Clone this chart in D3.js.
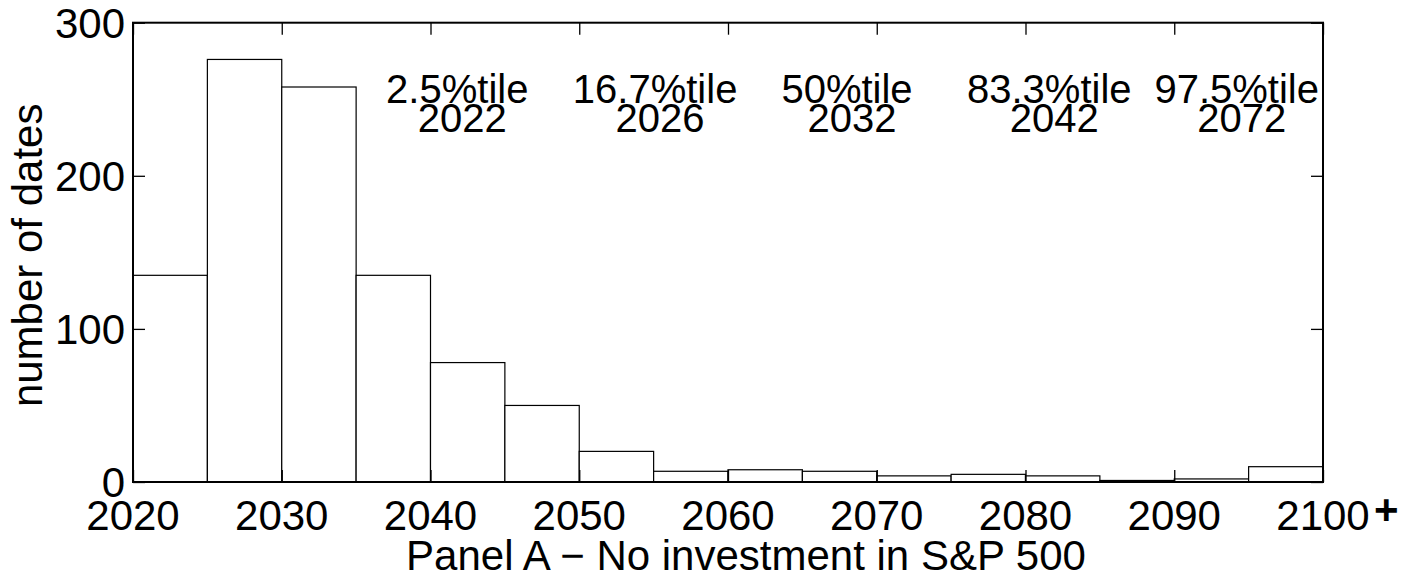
<!DOCTYPE html>
<html><head><meta charset="utf-8">
<script src="https://cdn.jsdelivr.net/npm/d3@7"></script>
<style>
html,body{margin:0;padding:0;background:#fff;}
svg{display:block;font-family:"Liberation Sans",Arial,Helvetica,sans-serif;}
</style></head>
<body><svg id="chart" width="1419" height="581"></svg>
<script>
// bins (start year of each 5-year bin) and counts
const binStarts = [2020,2025,2030,2035,2040,2045,2050,2055,2060,2065,2070,2075,2080,2085,2090,2095];
const counts    = [135,276,258,135,78,50,20,7,8,7,4,5,4,1,2,10];
const binWidth = 5;
const xTicks = [2020,2030,2040,2050,2060,2070,2080,2090,2100];
const xTickLabels = ["2020","2030","2040","2050","2060","2070","2080","2090","2100"];
const yTicks = [0,100,200,300];
const pctLabels = ["2.5%tile","16.7%tile","50%tile","83.3%tile","97.5%tile"];
const pctYears  = ["2022","2026","2032","2042","2072"];
const pctAnchor = [2041.8,2055.1,2068,2081.6,2094.2];

const L=133, R=1323, T=22.7, B=482;
const svg = d3.select("#chart");
const x = d3.scaleLinear().domain([2020,2100]).range([L,R]);
const y = d3.scaleLinear().domain([0,300]).range([B,T]);

// bars
svg.append("g").selectAll("rect").data(binStarts).join("rect")
  .attr("x",(d)=>x(d)).attr("width",(d)=>x(d+binWidth)-x(d))
  .attr("y",(d,i)=>y(counts[i])).attr("height",(d,i)=>y(0)-y(counts[i]))
  .attr("fill","#fff").attr("stroke","#000").attr("stroke-width",1.2);

const fs = 42;
const tickLen = 12;
// axes with inward ticks
const axB = d3.axisBottom(x).tickValues(xTicks).tickSize(-tickLen).tickPadding(0).tickFormat("");
const axT = d3.axisTop(x).tickValues(xTicks).tickSize(-tickLen).tickFormat("");
const axL = d3.axisLeft(y).tickValues(yTicks).tickSize(-tickLen).tickFormat("");
const axR = d3.axisRight(y).tickValues(yTicks).tickSize(-tickLen).tickFormat("");
[[axB,`translate(0,${B})`],[axT,`translate(0,${T})`],[axL,`translate(${L},0)`],[axR,`translate(${R},0)`]].forEach(([a,t])=>{
  const g = svg.append("g").attr("transform",t).call(a);
  g.selectAll(".domain").remove();
  g.selectAll("line").attr("stroke","#000").attr("stroke-width",1.3);
});
// frame
svg.append("rect").attr("x",L).attr("y",T).attr("width",R-L).attr("height",B-T)
  .attr("fill","none").attr("stroke","#000").attr("stroke-width",2);

// tick labels
svg.append("g").selectAll("text").data(xTicks).join("text")
  .attr("x",(d)=>x(d)).attr("y",530).attr("text-anchor","middle")
  .attr("font-size",fs).text((d,i)=>xTickLabels[i]);
svg.append("text").attr("x",x(2100)+51).attr("y",524).attr("font-size",fs)
  .attr("font-weight","bold").text("+");
svg.append("g").selectAll("text").data(yTicks).join("text")
  .attr("x",L-8).attr("y",(d)=>y(d)+15).attr("text-anchor","end")
  .attr("font-size",fs).text((d)=>d);

// axis titles
svg.append("text").attr("x",(L+R)/2+18).attr("y",570).attr("text-anchor","middle")
  .attr("font-size",fs).text("Panel A \u2212 No investment in S&P 500");
svg.append("text").attr("transform",`translate(42,${(T+B)/2+3}) rotate(-90)`)
  .attr("text-anchor","middle").attr("font-size",fs).text("number of dates");

// percentile annotations
const ann = svg.append("g");
pctLabels.forEach((lab,i)=>{
  ann.append("text").attr("x",x(pctAnchor[i])).attr("y",103).attr("text-anchor","middle")
    .attr("font-size",40).text(lab);
  ann.append("text").attr("x",x(pctAnchor[i])+5).attr("y",131.5).attr("text-anchor","middle")
    .attr("font-size",40).text(pctYears[i]);
});
</script></body></html>
